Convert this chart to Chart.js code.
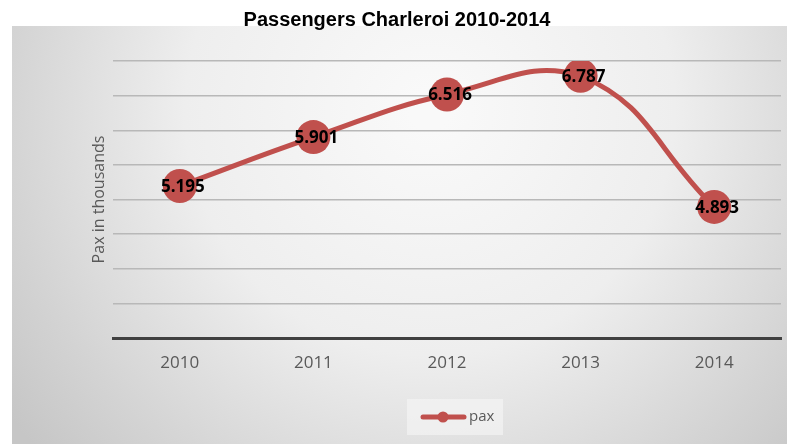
<!DOCTYPE html>
<html>
<head>
<meta charset="utf-8">
<title>Passengers Charleroi 2010-2014</title>
<script src="https://cdn.jsdelivr.net/npm/chart.js@4.4.1/dist/chart.umd.min.js"></script>
<style>
    html, body { margin: 0; padding: 0; background: #fff; }
    #paxChart { display: block; }
</style>
</head>
<body>
<canvas id="paxChart" width="787" height="444"></canvas>
<script>
// Passenger figures per year (thousands)
const years = ['2010', '2011', '2012', '2013', '2014'];
const pax = [5.195, 5.901, 6.516, 6.787, 4.893];
const yMin = 3;
const yMax = 7;
const yStep = 0.5;

const RED = '#c0504d';
const TEXT_GRAY = '#595959';

// Grey gradient panel behind the plot
const backdrop = {
    id: 'backdrop',
    beforeDraw(chart) {
        const ctx = chart.ctx;
        ctx.save();
        ctx.fillStyle = '#ffffff';
        ctx.fillRect(0, 0, chart.width, chart.height);

        const grad = ctx.createRadialGradient(430, 110, 20, 430, 110, 520);
        grad.addColorStop(0, '#f9f9f9');
        grad.addColorStop(0.45, '#eeeeee');
        grad.addColorStop(0.8, '#d4d4d4');
        grad.addColorStop(1, '#c6c6c6');
        ctx.fillStyle = grad;
        ctx.fillRect(12, 26, chart.width - 12, chart.height - 26);
        ctx.restore();
    }
};

// Legend under the axis: line + dot symbol, then the series name
const lineLegend = {
    id: 'lineLegend',
    afterDraw(chart) {
        const ctx = chart.ctx;
        const ds = chart.data.datasets[0];
        const cy = 417;
        ctx.save();
        ctx.fillStyle = 'rgba(246,246,246,0.6)';
        ctx.fillRect(407, 399, 96, 36);

        ctx.strokeStyle = ds.borderColor;
        ctx.lineWidth = 5;
        ctx.lineCap = 'round';
        ctx.beginPath();
        ctx.moveTo(423, cy);
        ctx.lineTo(464, cy);
        ctx.stroke();
        ctx.fillStyle = ds.borderColor;
        ctx.beginPath();
        ctx.arc(443, cy, 5.5, 0, Math.PI * 2);
        ctx.fill();

        ctx.font = "15px 'Open Sans', sans-serif";
        ctx.fillStyle = TEXT_GRAY;
        ctx.textAlign = 'left';
        ctx.textBaseline = 'middle';
        ctx.fillText(ds.label, 469, cy);
        ctx.restore();
    }
};

// Value labels centred on each marker
const valueLabels = {
    id: 'valueLabels',
    afterDatasetsDraw(chart) {
        const ctx = chart.ctx;
        const meta = chart.getDatasetMeta(0);
        ctx.save();
        ctx.font = "bold 17px 'Open Sans', sans-serif";
        ctx.fillStyle = '#000000';
        ctx.textAlign = 'center';
        ctx.textBaseline = 'middle';
        meta.data.forEach((pt, i) => {
            ctx.fillText(pax[i].toFixed(3), pt.x + 3, pt.y + 1);
        });
        ctx.restore();
    }
};

Chart.defaults.font.family = "'Open Sans', sans-serif";
Chart.defaults.color = TEXT_GRAY;

const ctx = document.getElementById('paxChart').getContext('2d');
const paxChart = new Chart(ctx, {
    type: 'line',
    data: {
        labels: years,
        datasets: [{
            label: 'pax',
            data: pax,
            borderColor: RED,
            backgroundColor: RED,
            borderWidth: 5,
            pointRadius: 17,
            pointBorderWidth: 0,
            pointBackgroundColor: RED,
            tension: 0.45,
            fill: false
        }]
    },
    options: {
        responsive: false,
        animation: false,
        layout: {
            autoPadding: false,
            padding: { left: 13, right: 6, top: 0, bottom: 46 }
        },
        plugins: {
            title: {
                display: true,
                text: 'Passengers Charleroi 2010-2014',
                color: '#000000',
                font: { family: "'Liberation Sans', Arial, sans-serif", size: 20, weight: 'bold' },
                padding: { top: 8, bottom: 29 }
            },
            legend: { display: false },
            tooltip: { enabled: false }
        },
        scales: {
            x: {
                offset: true,
                grid: { display: false, drawTicks: false },
                border: { display: true, color: '#404040', width: 3 },
                ticks: {
                    padding: 15,
                    color: TEXT_GRAY,
                    font: { size: 17 }
                },
                afterFit: scale => {
                    scale.height = 60;
                    scale.paddingLeft = 0;
                    scale.paddingRight = 0;
                }
            },
            y: {
                min: yMin,
                max: yMax,
                ticks: { display: false, stepSize: yStep },
                grid: { color: '#b8b8b8', lineWidth: 1.5, drawTicks: false },
                border: { display: false },
                title: {
                    display: true,
                    text: 'Pax in thousands',
                    color: TEXT_GRAY,
                    font: { size: 16 },
                    padding: { top: 77, bottom: 0 }
                },
                afterFit: scale => { scale.width = 100; }
            }
        }
    },
    plugins: [backdrop, valueLabels, lineLegend]
});
</script>
</body>
</html>
